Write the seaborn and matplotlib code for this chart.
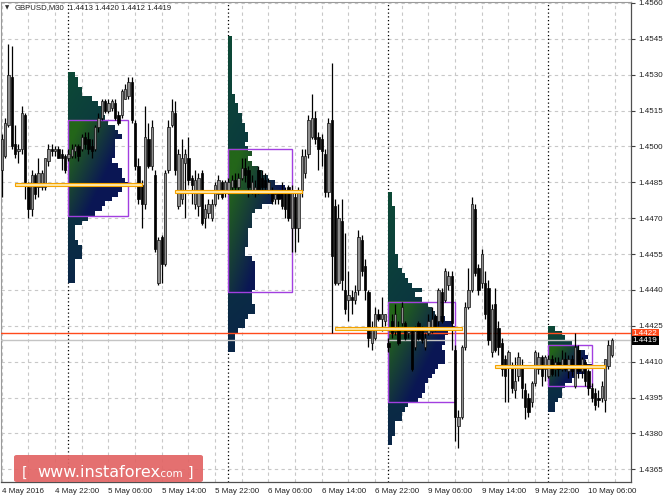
import numpy as np
import matplotlib
matplotlib.use('Agg')
import matplotlib.pyplot as plt
import seaborn as sns
from matplotlib.path import Path
from matplotlib.patches import PathPatch, Rectangle, FancyBboxPatch

# ---- GBPUSD M30 candles (bar 0 = 4 May 14:00) ----
opens = [
    1.4490, 1.4496, 1.4509, 1.4529, 1.4501, 1.4498, 1.4499, 1.4513, 1.4483, 1.4474,
    1.4488, 1.4483, 1.4483, 1.4483, 1.4494, 1.4499, 1.4498, 1.4499, 1.4497, 1.4496,
    1.4495, 1.4496, 1.4498, 1.4500, 1.4499, 1.4504, 1.4503, 1.4500, 1.4499, 1.4508,
    1.4512, 1.4519, 1.4515, 1.4516, 1.4518, 1.4513, 1.4513, 1.4520, 1.4521, 1.4527,
    1.4510, 1.4492, 1.4484, 1.4476, 1.4503, 1.4492, 1.4488, 1.4443, 1.4462, 1.4451,
    1.4490, 1.4509, 1.4514, 1.4475, 1.4478, 1.4493, 1.4495, 1.4487, 1.4476, 1.4475,
    1.4489, 1.4470, 1.4472, 1.4470, 1.4476, 1.4480, 1.4485, 1.4481, 1.4481, 1.4483,
    1.4486, 1.4483, 1.4487, 1.4491, 1.4490, 1.4482, 1.4482, 1.4490, 1.4487, 1.4486,
    1.4482, 1.4481, 1.4478, 1.4480, 1.4482, 1.4481, 1.4483, 1.4466, 1.4479, 1.4466,
    1.4482, 1.4489, 1.4497, 1.4504, 1.4512, 1.4504, 1.4503, 1.4497, 1.4481, 1.4511,
    1.4475, 1.4443, 1.4469, 1.4440, 1.4436, 1.4437, 1.4436, 1.4440, 1.4461, 1.4450,
    1.4439, 1.4418, 1.4420, 1.4430, 1.4428, 1.4427, 1.4418, 1.4427, 1.4423, 1.4424,
    1.4426, 1.4426, 1.4422, 1.4423, 1.4416, 1.4426, 1.4423, 1.4416, 1.4422, 1.4423,
    1.4429, 1.4427, 1.4439, 1.4436, 1.4442, 1.4446, 1.4415, 1.4383, 1.4387, 1.4416,
    1.4433, 1.4440, 1.4474, 1.4449, 1.4443, 1.4443, 1.4441, 1.4414, 1.4434, 1.4424,
    1.4418, 1.4411, 1.4408, 1.4408, 1.4398, 1.4404, 1.4408, 1.4398, 1.4395, 1.4393,
    1.4401, 1.4407, 1.4412, 1.4407, 1.4404, 1.4411, 1.4407, 1.4410, 1.4407, 1.4411,
    1.4406, 1.4411, 1.4400, 1.4415, 1.4406, 1.4410, 1.4406, 1.4399, 1.4397, 1.4395,
    1.4395, 1.4394, 1.4408, 1.4413,
]
highs = [
    1.4505, 1.4512, 1.4543, 1.4542, 1.4509, 1.4501, 1.4517, 1.4514, 1.4485, 1.4490,
    1.4489, 1.4495, 1.4490, 1.4495, 1.4501, 1.4501, 1.4500, 1.4500, 1.4499, 1.4497,
    1.4499, 1.4501, 1.4501, 1.4501, 1.4505, 1.4506, 1.4506, 1.4503, 1.4509, 1.4514,
    1.4520, 1.4520, 1.4520, 1.4520, 1.4520, 1.4515, 1.4524, 1.4526, 1.4529, 1.4529,
    1.4511, 1.4495, 1.4486, 1.4517, 1.4510, 1.4511, 1.4490, 1.4462, 1.4463, 1.4490,
    1.4511, 1.4520, 1.4519, 1.4499, 1.4503, 1.4499, 1.4504, 1.4488, 1.4490, 1.4489,
    1.4490, 1.4476, 1.4478, 1.4478, 1.4485, 1.4488, 1.4486, 1.4486, 1.4487, 1.4488,
    1.4489, 1.4489, 1.4495, 1.4495, 1.4492, 1.4488, 1.4486, 1.4492, 1.4490, 1.4489,
    1.4487, 1.4483, 1.4481, 1.4482, 1.4485, 1.4483, 1.4484, 1.4484, 1.4481, 1.4483,
    1.4499, 1.4499, 1.4513, 1.4522, 1.4515, 1.4506, 1.4505, 1.4499, 1.4512, 1.4535,
    1.4478, 1.4476, 1.4478, 1.4464, 1.4448, 1.4440, 1.4442, 1.4465, 1.4463, 1.4453,
    1.4440, 1.4427, 1.4433, 1.4432, 1.4437, 1.4430, 1.4420, 1.4430, 1.4434, 1.4427,
    1.4435, 1.4427, 1.4424, 1.4424, 1.4425, 1.4427, 1.4425, 1.4422, 1.4430, 1.4433,
    1.4430, 1.4441, 1.4441, 1.4449, 1.4448, 1.4448, 1.4417, 1.4390, 1.4417, 1.4435,
    1.4449, 1.4479, 1.4476, 1.4451, 1.4457, 1.4448, 1.4444, 1.4434, 1.4441, 1.4427,
    1.4420, 1.4413, 1.4415, 1.4410, 1.4412, 1.4414, 1.4411, 1.4401, 1.4397, 1.4402,
    1.4415, 1.4414, 1.4413, 1.4413, 1.4413, 1.4413, 1.4412, 1.4412, 1.4415, 1.4414,
    1.4413, 1.4413, 1.4422, 1.4417, 1.4412, 1.4411, 1.4407, 1.4401, 1.4399, 1.4398,
    1.4402, 1.4411, 1.4419, 1.4420,
]
lows = [
    1.4479, 1.4495, 1.4508, 1.4499, 1.4495, 1.4493, 1.4497, 1.4478, 1.4470, 1.4471,
    1.4478, 1.4479, 1.4482, 1.4482, 1.4492, 1.4496, 1.4496, 1.4495, 1.4490, 1.4489,
    1.4494, 1.4495, 1.4495, 1.4494, 1.4498, 1.4499, 1.4497, 1.4495, 1.4498, 1.4506,
    1.4511, 1.4514, 1.4514, 1.4515, 1.4511, 1.4509, 1.4512, 1.4520, 1.4520, 1.4510,
    1.4490, 1.4476, 1.4466, 1.4474, 1.4491, 1.4490, 1.4456, 1.4442, 1.4443, 1.4450,
    1.4489, 1.4508, 1.4488, 1.4474, 1.4476, 1.4470, 1.4484, 1.4476, 1.4474, 1.4471,
    1.4467, 1.4466, 1.4470, 1.4469, 1.4475, 1.4478, 1.4478, 1.4479, 1.4480, 1.4481,
    1.4482, 1.4482, 1.4486, 1.4485, 1.4479, 1.4480, 1.4479, 1.4480, 1.4481, 1.4481,
    1.4480, 1.4476, 1.4476, 1.4476, 1.4474, 1.4470, 1.4469, 1.4456, 1.4456, 1.4460,
    1.4479, 1.4487, 1.4495, 1.4503, 1.4501, 1.4490, 1.4492, 1.4479, 1.4479, 1.4422,
    1.4442, 1.4442, 1.4440, 1.4430, 1.4427, 1.4430, 1.4434, 1.4438, 1.4446, 1.4436,
    1.4416, 1.4415, 1.4419, 1.4427, 1.4423, 1.4425, 1.4414, 1.4420, 1.4421, 1.4417,
    1.4425, 1.4419, 1.4420, 1.4406, 1.4415, 1.4419, 1.4418, 1.4415, 1.4421, 1.4422,
    1.4423, 1.4425, 1.4426, 1.4435, 1.4440, 1.4415, 1.4377, 1.4374, 1.4386, 1.4415,
    1.4432, 1.4439, 1.4446, 1.4438, 1.4441, 1.4428, 1.4417, 1.4412, 1.4414, 1.4413,
    1.4404, 1.4393, 1.4393, 1.4397, 1.4395, 1.4402, 1.4395, 1.4386, 1.4387, 1.4391,
    1.4400, 1.4405, 1.4400, 1.4402, 1.4403, 1.4404, 1.4404, 1.4404, 1.4406, 1.4406,
    1.4403, 1.4404, 1.4399, 1.4403, 1.4403, 1.4400, 1.4396, 1.4393, 1.4390, 1.4391,
    1.4393, 1.4389, 1.4407, 1.4412,
]
closes = [
    1.4503, 1.4510, 1.4530, 1.4500, 1.4497, 1.4499, 1.4514, 1.4485, 1.4474, 1.4488,
    1.4480, 1.4489, 1.4489, 1.4495, 1.4499, 1.4498, 1.4499, 1.4495, 1.4495, 1.4490,
    1.4497, 1.4499, 1.4500, 1.4496, 1.4504, 1.4501, 1.4499, 1.4498, 1.4508, 1.4512,
    1.4519, 1.4515, 1.4518, 1.4519, 1.4512, 1.4510, 1.4523, 1.4524, 1.4527, 1.4511,
    1.4492, 1.4478, 1.4476, 1.4504, 1.4492, 1.4508, 1.4457, 1.4461, 1.4451, 1.4489,
    1.4508, 1.4515, 1.4490, 1.4497, 1.4495, 1.4497, 1.4486, 1.4484, 1.4486, 1.4487,
    1.4468, 1.4474, 1.4476, 1.4476, 1.4484, 1.4486, 1.4479, 1.4485, 1.4485, 1.4486,
    1.4483, 1.4487, 1.4491, 1.4488, 1.4483, 1.4485, 1.4483, 1.4482, 1.4483, 1.4483,
    1.4485, 1.4477, 1.4480, 1.4478, 1.4475, 1.4474, 1.4470, 1.4482, 1.4466, 1.4482,
    1.4496, 1.4496, 1.4511, 1.4512, 1.4503, 1.4499, 1.4498, 1.4481, 1.4510, 1.4454,
    1.4443, 1.4470, 1.4444, 1.4432, 1.4438, 1.4436, 1.4439, 1.4462, 1.4448, 1.4440,
    1.4420, 1.4424, 1.4430, 1.4428, 1.4430, 1.4430, 1.4416, 1.4422, 1.4430, 1.4418,
    1.4433, 1.4420, 1.4423, 1.4407, 1.4423, 1.4420, 1.4419, 1.4420, 1.4427, 1.4428,
    1.4425, 1.4440, 1.4427, 1.4448, 1.4446, 1.4426, 1.4387, 1.4387, 1.4416, 1.4433,
    1.4440, 1.4476, 1.4447, 1.4440, 1.4455, 1.4430, 1.4419, 1.4432, 1.4415, 1.4416,
    1.4407, 1.4404, 1.4414, 1.4399, 1.4402, 1.4412, 1.4399, 1.4391, 1.4389, 1.4401,
    1.4414, 1.4412, 1.4404, 1.4412, 1.4411, 1.4405, 1.4410, 1.4407, 1.4411, 1.4407,
    1.4411, 1.4406, 1.4416, 1.4406, 1.4411, 1.4402, 1.4399, 1.4395, 1.4392, 1.4394,
    1.4400, 1.4411, 1.4417, 1.4419,
]

# ---- daily market profiles (TPO counts per 2-pip row, top row first) ----
day_starts = [20, 68, 116, 164]
profile_tops = [1.4530, 1.4545, 1.4480, 1.4424]
profile_counts = [
    [2, 3, 3, 4, 4, 7, 9, 10, 10, 11, 12, 14, 15, 16, 14, 14, 14, 14, 13, 15, 16, 16,
     17, 18, 16, 15, 13, 11, 10, 8, 6, 4, 2, 2, 2, 3, 4, 4, 4, 2, 2, 2, 2, 2],
    [1, 1, 1, 1, 1, 1, 1, 1, 1, 1, 1, 1, 2, 2, 3, 3, 4, 4, 5, 5, 6, 6, 5, 6, 7, 6, 7,
     9, 10, 12, 14, 17, 19, 16, 13, 10, 8, 7, 7, 7, 6, 6, 6, 6, 5, 5, 7, 8, 8, 8, 8,
     8, 8, 7, 7, 7, 8, 8, 6, 5, 5, 3, 2, 2, 2, 2],
    [1, 1, 1, 2, 2, 2, 2, 2, 2, 2, 2, 2, 2, 3, 3, 3, 4, 5, 6, 7, 10, 8, 10, 12, 13,
     14, 17, 19, 20, 18, 17, 17, 16, 17, 17, 17, 15, 14, 13, 12, 11, 11, 10, 9, 6, 5,
     4, 4, 2, 2, 2, 1, 1],
    [2, 4, 5, 7, 9, 11, 12, 11, 13, 11, 8, 7, 5, 4, 4, 3, 2, 2],
]
va_highs = [1.4511, 1.4499, 1.4435, 1.4417]
va_lows = [1.4471, 1.4439, 1.4393, 1.4400]
poc_spans = [(4, 42), (52, 90), (100, 138), (148, 181)]
ROW = 0.0002

price_ticks = [1.4365, 1.4380, 1.4395, 1.4410, 1.4425, 1.4440, 1.4455, 1.4470,
               1.4485, 1.4500, 1.4515, 1.4530, 1.4545, 1.4560]
time_bars = [0, 16, 32, 48, 64, 80, 96, 112, 128, 144, 160, 176]
time_labels = ['4 May 2016', '4 May 22:00', '5 May 06:00', '5 May 14:00',
               '5 May 22:00', '6 May 06:00', '6 May 14:00', '6 May 22:00',
               '9 May 06:00', '9 May 14:00', '9 May 22:00', '10 May 06:00']
ask_line = 1.4422
bid_line = 1.4419
header = '1.4413 1.4420 1.4412 1.4419'

sns.set_theme(style='white')
plt.rcParams['font.family'] = ['Liberation Sans', 'DejaVu Sans']

W, H = 664, 498
fig = plt.figure(figsize=(W / 100, H / 100), dpi=100, facecolor='white')
ax = fig.add_axes([1 / W, 16 / H, 630 / W, 480 / H])
ax.set_facecolor('white')

GREEN = np.array([0.14, 0.40, 0.10])
NAVY = np.array([0.04, 0.09, 0.33])
TOP_COL = np.array([0.05, 0.29, 0.21])
BOT_COL = np.array([0.04, 0.15, 0.28])


def profile_colors(y_top, y_bot, va_hi, va_lo, nx=80, ny=300):
    ys = np.linspace(y_top, y_bot, ny)
    xs = np.linspace(0, 1, nx)
    U, Y = np.meshgrid(xs, ys)
    V = ((y_top - Y) / (y_top - y_bot))[..., None]
    Uc = U[..., None]
    base = TOP_COL * (1 - V) + BOT_COL * V
    base = base * (1 - 0.3 * Uc) + NAVY * 0.3 * Uc
    vva = np.clip((va_hi - Y) / (va_hi - va_lo), 0, 1)
    t = np.clip(1.2 * U + 0.9 * vva - 0.25, 0, 1)[..., None]
    va_col = GREEN * (1 - t) + NAVY * t
    inside = ((Y <= va_hi) & (Y >= va_lo))[..., None]
    return np.where(inside, va_col, base)


# grid
for p in price_ticks:
    ax.axhline(p, color='#C8C8C8', lw=0.8, ls=(0, (3, 3)), zorder=0)
for b in range(0, 190, 8):
    ax.axvline(b, color='#C8C8C8', lw=0.8, ls=(0, (3, 3)), zorder=0)
for d in day_starts:
    ax.axvline(d, color='black', lw=0.9, ls=(0, (1, 2)), zorder=1)

# market profiles
for start, top, counts, va_hi, va_lo, (p0, p1) in zip(
        day_starts, profile_tops, profile_counts, va_highs, va_lows, poc_spans):
    counts = np.array(counts)
    prices = top - ROW * np.arange(len(counts))
    verts, codes = [], []
    for p, c in zip(prices, counts):
        y0, y1 = p - ROW / 2, p + ROW / 2
        verts += [(start, y0), (start + c, y0), (start + c, y1), (start, y1), (start, y0)]
        codes += [Path.MOVETO, Path.LINETO, Path.LINETO, Path.LINETO, Path.CLOSEPOLY]
    clip = PathPatch(Path(verts, codes), facecolor='none', edgecolor='none')
    ax.add_patch(clip)
    wmax = counts.max()
    y_top, y_bot = prices[0] + ROW / 2, prices[-1] - ROW / 2
    img = ax.imshow(profile_colors(y_top, y_bot, va_hi, va_lo),
                    extent=[start, start + wmax, y_bot, y_top], origin='upper',
                    aspect='auto', interpolation='bilinear', zorder=2)
    img.set_clip_path(clip)
    ax.add_patch(Rectangle((start, va_lo), wmax, va_hi - va_lo, fill=False,
                           ec='#A23FE0', lw=1.0, zorder=4))
    poc = prices[np.argmax(counts)]
    ax.add_patch(Rectangle((p0, poc - 0.00006), p1 - p0, 0.00012, fc='#FFE8A8',
                           ec='#F5A300', lw=0.8, zorder=7))

# price lines
ax.axhline(ask_line, color='#FF4A1C', lw=1.0, zorder=3)
ax.axhline(bid_line, color='#C4C4C4', lw=1.0, zorder=3)

# candles
x = np.arange(len(closes))
o, h, l, c = map(np.array, (opens, highs, lows, closes))
ax.vlines(x, l, h, color='black', lw=0.9, zorder=5)
up = c >= o
ax.bar(x[up], (c - o)[up], bottom=o[up], width=0.7, color='#8E8E8E',
       edgecolor='#111111', lw=0.5, zorder=6)
ax.bar(x[~up], (o - c)[~up], bottom=c[~up], width=0.7, color='black',
       edgecolor='black', lw=0.5, zorder=6)

ax.set_xlim(-0.21, 188.8)
ax.set_ylim(1.43597, 1.45604)

# axes
ax.yaxis.tick_right()
ax.set_yticks(price_ticks)
ax.set_yticklabels([f'{p:.4f}' for p in price_ticks])
ax.set_xticks(time_bars)
ax.set_xticklabels(time_labels, ha='left')
ax.tick_params(axis='both', length=3, width=0.8, color='#404040',
               labelsize=5.8, labelcolor='#202020', pad=2)
ax.tick_params(axis='x', pad=1.5)
ax.tick_params(axis='y', right=True, left=False)
for side in ['left', 'top']:
    ax.spines[side].set_color('#9A9A9A')
    ax.spines[side].set_linewidth(0.8)
for side in ['right', 'bottom']:
    ax.spines[side].set_color('#505050')
    ax.spines[side].set_linewidth(0.9)

tr = ax.get_yaxis_transform()
ax.text(1.003, ask_line, f'{ask_line:.4f}', transform=tr, ha='left', va='center',
        fontsize=5.8, color='white', zorder=10,
        bbox=dict(boxstyle='square,pad=0.12', fc='#FF4A1C', ec='none'))
ax.text(1.003, bid_line - 0.00003, f'{bid_line:.4f}', transform=tr, ha='left',
        va='center', fontsize=5.8, color='white', zorder=11,
        bbox=dict(boxstyle='square,pad=0.12', fc='black', ec='none'))

# header
fig.text(5 / W, 1 - 8 / H, '\u25bc', fontsize=4, color='#303030', va='center',
         family='DejaVu Sans')
fig.text(15 / W, 1 - 8 / H, 'GBPUSD,M30', fontsize=5.6, color='#202020', va='center')
fig.text(69 / W, 1 - 8 / H, header, fontsize=5.6, color='#202020', va='center')

# watermark
fig.add_artist(FancyBboxPatch((14 / W, 16 / H), 189 / W, 27 / H,
                              boxstyle='round,pad=0,rounding_size=0.004',
                              transform=fig.transFigure, fc='#E26464', ec='none',
                              alpha=0.92, zorder=20))
base_y = (H - 477) / H
fig.text(22 / W, base_y, '[', fontsize=10, color='white', va='baseline',
         family='DejaVu Sans', zorder=21)
fig.text(37 / W, base_y, 'www.instaforex', fontsize=11.5, color='white',
         va='baseline', family='DejaVu Sans', zorder=21)
fig.text(158 / W, base_y, '.com', fontsize=7.5, color='white', va='baseline',
         family='DejaVu Sans', zorder=21)
fig.text(188 / W, base_y, ']', fontsize=10, color='white', va='baseline',
         family='DejaVu Sans', zorder=21)

fig.savefig('out.png', dpi=100, facecolor='white')
